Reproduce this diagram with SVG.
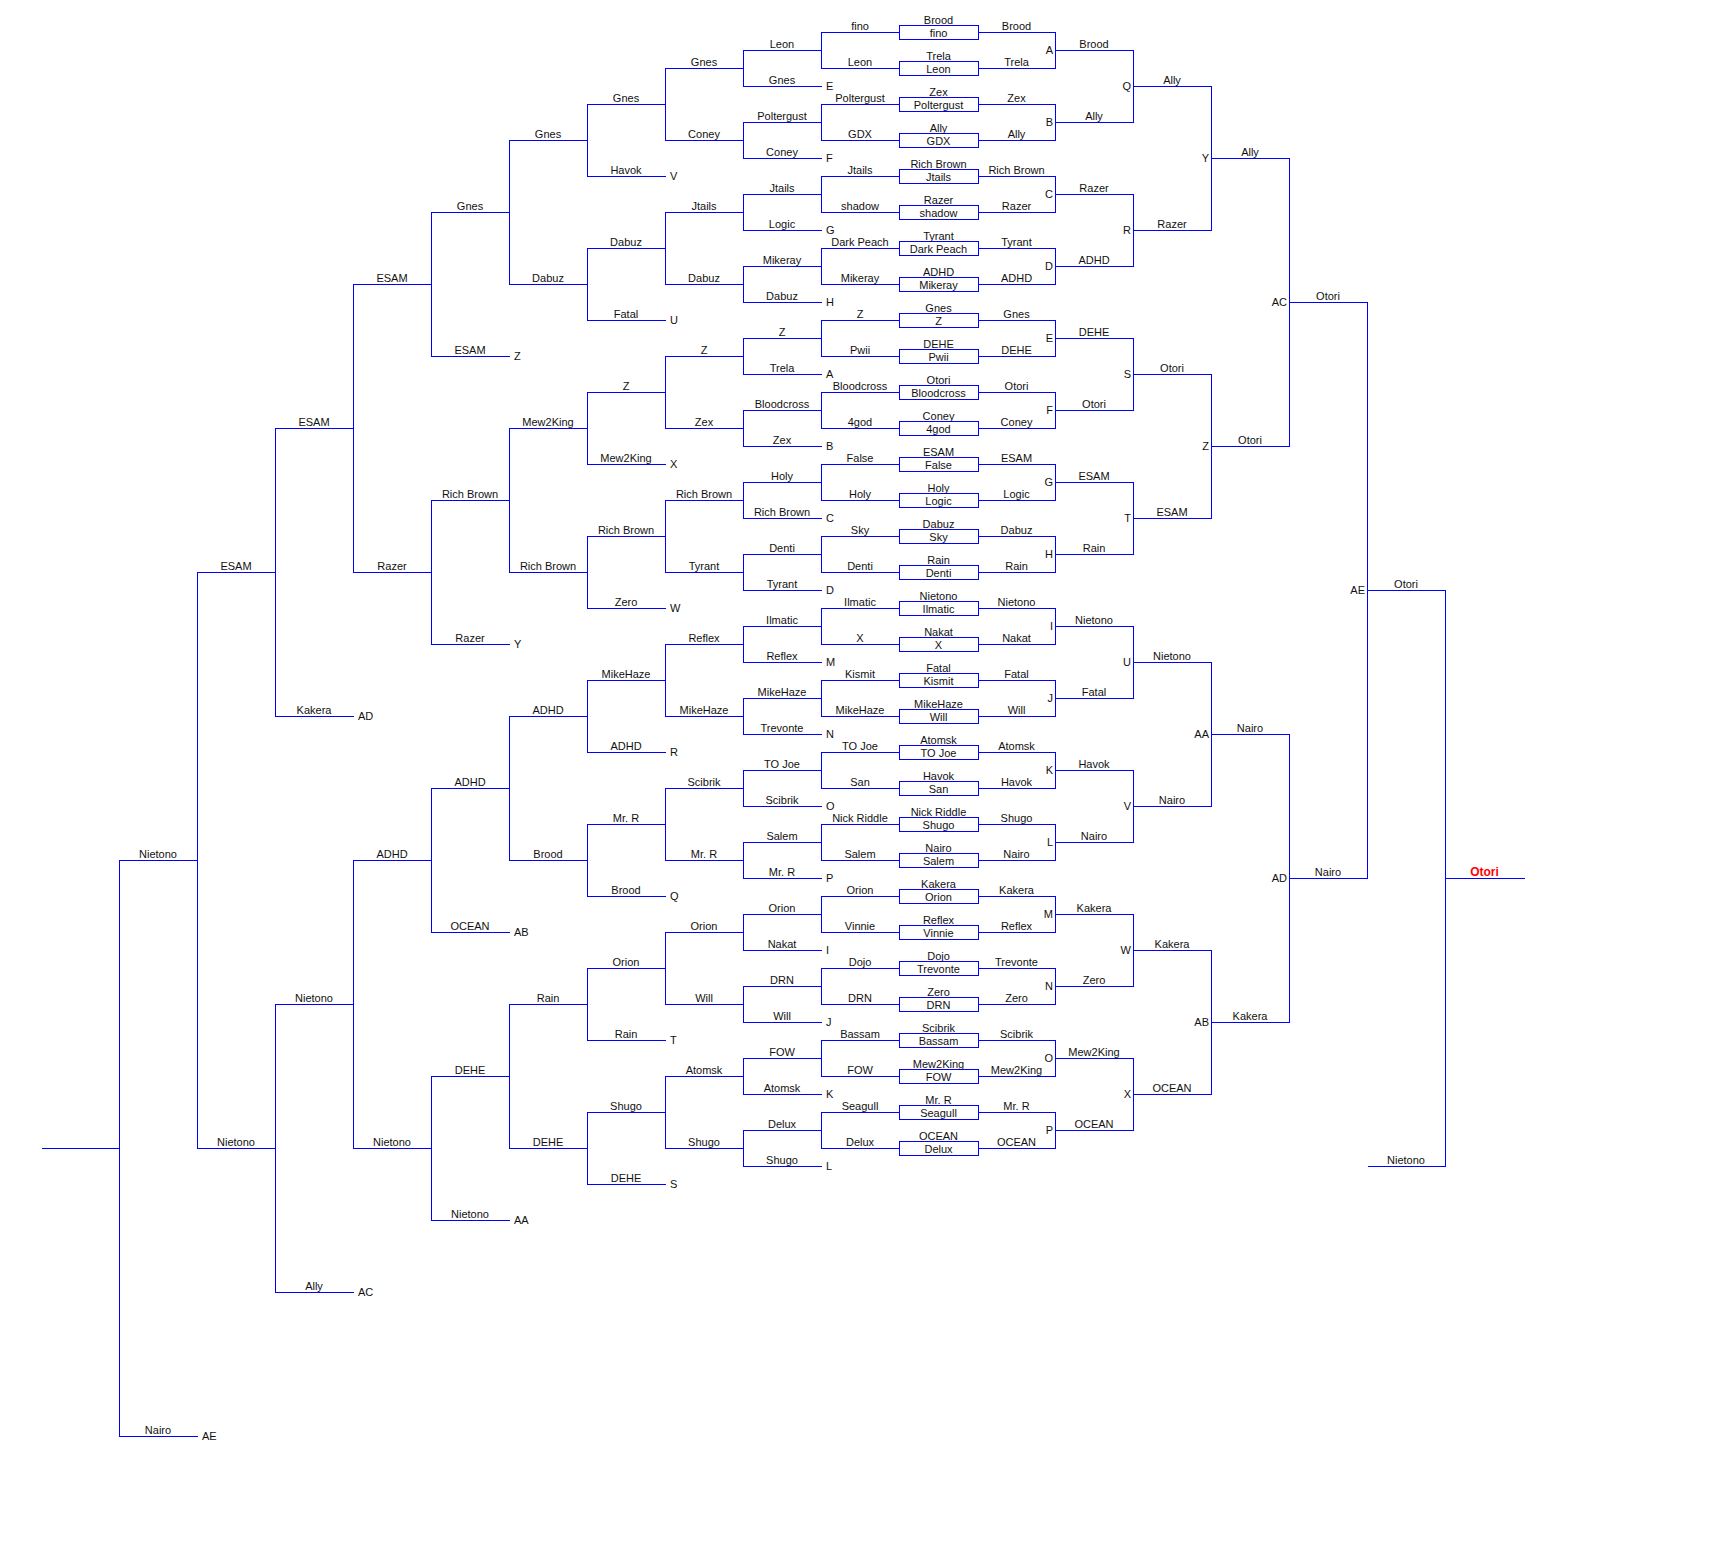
<svg xmlns="http://www.w3.org/2000/svg" width="1723" height="1551" viewBox="0 0 1723 1551">
<style>
.c path{fill:none;stroke:#0000ff;stroke-width:1}
.n rect{fill:#fff;stroke:#0000ff;stroke-width:1}
text{font-family:"Liberation Sans",Arial,sans-serif;font-size:11px;fill:#111;text-anchor:middle}
text.s{text-anchor:start}
text.e{text-anchor:end}
text.win{fill:#ff0000;font-weight:bold;font-size:12px}
</style>
<rect width="1723" height="1551" fill="#fff"/>
<g id="connectors" class="c" shape-rendering="crispEdges" transform="translate(0.5,0.5)">
<path d="M978 32H1055V68H978M978 104H1055V140H978M978 176H1055V212H978M978 248H1055V284H978M978 320H1055V356H978M978 392H1055V428H978M978 464H1055V500H978M978 536H1055V572H978M978 608H1055V644H978M978 680H1055V716H978M978 752H1055V788H978M978 824H1055V860H978M978 896H1055V932H978M978 968H1055V1004H978M978 1040H1055V1076H978M978 1112H1055V1148H978"/>
<path d="M1055 50H1133V122H1055M1055 194H1133V266H1055M1055 338H1133V410H1055M1055 482H1133V554H1055M1055 626H1133V698H1055M1055 770H1133V842H1055M1055 914H1133V986H1055M1055 1058H1133V1130H1055"/>
<path d="M1133 86H1211V230H1133M1133 374H1211V518H1133M1133 662H1211V806H1133M1133 950H1211V1094H1133"/>
<path d="M1211 158H1289V446H1211M1211 734H1289V1022H1211"/>
<path d="M1289 302H1367V878H1289"/>
<path d="M1367 590H1445V1166H1367M1445 878H1524"/>
<path d="M899 32H821V68H899M899 104H821V140H899M899 176H821V212H899M899 248H821V284H899M899 320H821V356H899M899 392H821V428H899M899 464H821V500H899M899 536H821V572H899M899 608H821V644H899M899 680H821V716H899M899 752H821V788H899M899 824H821V860H899M899 896H821V932H899M899 968H821V1004H899M899 1040H821V1076H899M899 1112H821V1148H899"/>
<path d="M821 50H743V86H821M821 122H743V158H821M821 194H743V230H821M821 266H743V302H821M821 338H743V374H821M821 410H743V446H821M821 482H743V518H821M821 554H743V590H821M821 626H743V662H821M821 698H743V734H821M821 770H743V806H821M821 842H743V878H821M821 914H743V950H821M821 986H743V1022H821M821 1058H743V1094H821M821 1130H743V1166H821"/>
<path d="M743 68H665V140H743M743 212H665V284H743M743 356H665V428H743M743 500H665V572H743M743 644H665V716H743M743 788H665V860H743M743 932H665V1004H743M743 1076H665V1148H743"/>
<path d="M665 104H587V176H665M665 248H587V320H665M665 392H587V464H665M665 536H587V608H665M665 680H587V752H665M665 824H587V896H665M665 968H587V1040H665M665 1112H587V1184H665"/>
<path d="M587 140H509V284H587M587 428H509V572H587M587 716H509V860H587M587 1004H509V1148H587"/>
<path d="M509 212H431V356H509M509 500H431V644H509M509 788H431V932H509M509 1076H431V1220H509"/>
<path d="M431 284H353V572H431M431 860H353V1148H431"/>
<path d="M353 428H275V716H353M353 1004H275V1292H353"/>
<path d="M275 572H197V1148H275"/>
<path d="M197 860H119V1436H197M119 1148H41"/>
</g>
<g id="matches" class="n">
<g id="m1"><rect x="899.5" y="25.5" width="79" height="14" shape-rendering="crispEdges"/><text x="938.5" y="24">Brood</text><text x="938.5" y="37">fino</text></g>
<g id="m2"><rect x="899.5" y="61.5" width="79" height="14" shape-rendering="crispEdges"/><text x="938.5" y="60">Trela</text><text x="938.5" y="73">Leon</text></g>
<g id="m3"><rect x="899.5" y="97.5" width="79" height="14" shape-rendering="crispEdges"/><text x="938.5" y="96">Zex</text><text x="938.5" y="109">Poltergust</text></g>
<g id="m4"><rect x="899.5" y="133.5" width="79" height="14" shape-rendering="crispEdges"/><text x="938.5" y="132">Ally</text><text x="938.5" y="145">GDX</text></g>
<g id="m5"><rect x="899.5" y="169.5" width="79" height="14" shape-rendering="crispEdges"/><text x="938.5" y="168">Rich Brown</text><text x="938.5" y="181">Jtails</text></g>
<g id="m6"><rect x="899.5" y="205.5" width="79" height="14" shape-rendering="crispEdges"/><text x="938.5" y="204">Razer</text><text x="938.5" y="217">shadow</text></g>
<g id="m7"><rect x="899.5" y="241.5" width="79" height="14" shape-rendering="crispEdges"/><text x="938.5" y="240">Tyrant</text><text x="938.5" y="253">Dark Peach</text></g>
<g id="m8"><rect x="899.5" y="277.5" width="79" height="14" shape-rendering="crispEdges"/><text x="938.5" y="276">ADHD</text><text x="938.5" y="289">Mikeray</text></g>
<g id="m9"><rect x="899.5" y="313.5" width="79" height="14" shape-rendering="crispEdges"/><text x="938.5" y="312">Gnes</text><text x="938.5" y="325">Z</text></g>
<g id="m10"><rect x="899.5" y="349.5" width="79" height="14" shape-rendering="crispEdges"/><text x="938.5" y="348">DEHE</text><text x="938.5" y="361">Pwii</text></g>
<g id="m11"><rect x="899.5" y="385.5" width="79" height="14" shape-rendering="crispEdges"/><text x="938.5" y="384">Otori</text><text x="938.5" y="397">Bloodcross</text></g>
<g id="m12"><rect x="899.5" y="421.5" width="79" height="14" shape-rendering="crispEdges"/><text x="938.5" y="420">Coney</text><text x="938.5" y="433">4god</text></g>
<g id="m13"><rect x="899.5" y="457.5" width="79" height="14" shape-rendering="crispEdges"/><text x="938.5" y="456">ESAM</text><text x="938.5" y="469">False</text></g>
<g id="m14"><rect x="899.5" y="493.5" width="79" height="14" shape-rendering="crispEdges"/><text x="938.5" y="492">Holy</text><text x="938.5" y="505">Logic</text></g>
<g id="m15"><rect x="899.5" y="529.5" width="79" height="14" shape-rendering="crispEdges"/><text x="938.5" y="528">Dabuz</text><text x="938.5" y="541">Sky</text></g>
<g id="m16"><rect x="899.5" y="565.5" width="79" height="14" shape-rendering="crispEdges"/><text x="938.5" y="564">Rain</text><text x="938.5" y="577">Denti</text></g>
<g id="m17"><rect x="899.5" y="601.5" width="79" height="14" shape-rendering="crispEdges"/><text x="938.5" y="600">Nietono</text><text x="938.5" y="613">Ilmatic</text></g>
<g id="m18"><rect x="899.5" y="637.5" width="79" height="14" shape-rendering="crispEdges"/><text x="938.5" y="636">Nakat</text><text x="938.5" y="649">X</text></g>
<g id="m19"><rect x="899.5" y="673.5" width="79" height="14" shape-rendering="crispEdges"/><text x="938.5" y="672">Fatal</text><text x="938.5" y="685">Kismit</text></g>
<g id="m20"><rect x="899.5" y="709.5" width="79" height="14" shape-rendering="crispEdges"/><text x="938.5" y="708">MikeHaze</text><text x="938.5" y="721">Will</text></g>
<g id="m21"><rect x="899.5" y="745.5" width="79" height="14" shape-rendering="crispEdges"/><text x="938.5" y="744">Atomsk</text><text x="938.5" y="757">TO Joe</text></g>
<g id="m22"><rect x="899.5" y="781.5" width="79" height="14" shape-rendering="crispEdges"/><text x="938.5" y="780">Havok</text><text x="938.5" y="793">San</text></g>
<g id="m23"><rect x="899.5" y="817.5" width="79" height="14" shape-rendering="crispEdges"/><text x="938.5" y="816">Nick Riddle</text><text x="938.5" y="829">Shugo</text></g>
<g id="m24"><rect x="899.5" y="853.5" width="79" height="14" shape-rendering="crispEdges"/><text x="938.5" y="852">Nairo</text><text x="938.5" y="865">Salem</text></g>
<g id="m25"><rect x="899.5" y="889.5" width="79" height="14" shape-rendering="crispEdges"/><text x="938.5" y="888">Kakera</text><text x="938.5" y="901">Orion</text></g>
<g id="m26"><rect x="899.5" y="925.5" width="79" height="14" shape-rendering="crispEdges"/><text x="938.5" y="924">Reflex</text><text x="938.5" y="937">Vinnie</text></g>
<g id="m27"><rect x="899.5" y="961.5" width="79" height="14" shape-rendering="crispEdges"/><text x="938.5" y="960">Dojo</text><text x="938.5" y="973">Trevonte</text></g>
<g id="m28"><rect x="899.5" y="997.5" width="79" height="14" shape-rendering="crispEdges"/><text x="938.5" y="996">Zero</text><text x="938.5" y="1009">DRN</text></g>
<g id="m29"><rect x="899.5" y="1033.5" width="79" height="14" shape-rendering="crispEdges"/><text x="938.5" y="1032">Scibrik</text><text x="938.5" y="1045">Bassam</text></g>
<g id="m30"><rect x="899.5" y="1069.5" width="79" height="14" shape-rendering="crispEdges"/><text x="938.5" y="1068">Mew2King</text><text x="938.5" y="1081">FOW</text></g>
<g id="m31"><rect x="899.5" y="1105.5" width="79" height="14" shape-rendering="crispEdges"/><text x="938.5" y="1104">Mr. R</text><text x="938.5" y="1117">Seagull</text></g>
<g id="m32"><rect x="899.5" y="1141.5" width="79" height="14" shape-rendering="crispEdges"/><text x="938.5" y="1140">OCEAN</text><text x="938.5" y="1153">Delux</text></g>
</g>
<g id="r1-losers">
<text x="860" y="30">fino</text><text x="860" y="66">Leon</text><text x="860" y="102">Poltergust</text><text x="860" y="138">GDX</text>
<text x="860" y="174">Jtails</text><text x="860" y="210">shadow</text><text x="860" y="246">Dark Peach</text><text x="860" y="282">Mikeray</text>
<text x="860" y="318">Z</text><text x="860" y="354">Pwii</text><text x="860" y="390">Bloodcross</text><text x="860" y="426">4god</text>
<text x="860" y="462">False</text><text x="860" y="498">Holy</text><text x="860" y="534">Sky</text><text x="860" y="570">Denti</text>
<text x="860" y="606">Ilmatic</text><text x="860" y="642">X</text><text x="860" y="678">Kismit</text><text x="860" y="714">MikeHaze</text>
<text x="860" y="750">TO Joe</text><text x="860" y="786">San</text><text x="860" y="822">Nick Riddle</text><text x="860" y="858">Salem</text>
<text x="860" y="894">Orion</text><text x="860" y="930">Vinnie</text><text x="860" y="966">Dojo</text><text x="860" y="1002">DRN</text>
<text x="860" y="1038">Bassam</text><text x="860" y="1074">FOW</text><text x="860" y="1110">Seagull</text><text x="860" y="1146">Delux</text>
</g>
<g id="r1-winners">
<text x="1016.5" y="30">Brood</text><text x="1016.5" y="66">Trela</text><text x="1016.5" y="102">Zex</text><text x="1016.5" y="138">Ally</text>
<text x="1016.5" y="174">Rich Brown</text><text x="1016.5" y="210">Razer</text><text x="1016.5" y="246">Tyrant</text><text x="1016.5" y="282">ADHD</text>
<text x="1016.5" y="318">Gnes</text><text x="1016.5" y="354">DEHE</text><text x="1016.5" y="390">Otori</text><text x="1016.5" y="426">Coney</text>
<text x="1016.5" y="462">ESAM</text><text x="1016.5" y="498">Logic</text><text x="1016.5" y="534">Dabuz</text><text x="1016.5" y="570">Rain</text>
<text x="1016.5" y="606">Nietono</text><text x="1016.5" y="642">Nakat</text><text x="1016.5" y="678">Fatal</text><text x="1016.5" y="714">Will</text>
<text x="1016.5" y="750">Atomsk</text><text x="1016.5" y="786">Havok</text><text x="1016.5" y="822">Shugo</text><text x="1016.5" y="858">Nairo</text>
<text x="1016.5" y="894">Kakera</text><text x="1016.5" y="930">Reflex</text><text x="1016.5" y="966">Trevonte</text><text x="1016.5" y="1002">Zero</text>
<text x="1016.5" y="1038">Scibrik</text><text x="1016.5" y="1074">Mew2King</text><text x="1016.5" y="1110">Mr. R</text><text x="1016.5" y="1146">OCEAN</text>
</g>
<g id="w-round2">
<text x="1094" y="48">Brood</text><text x="1094" y="120">Ally</text><text x="1094" y="192">Razer</text><text x="1094" y="264">ADHD</text>
<text x="1094" y="336">DEHE</text><text x="1094" y="408">Otori</text><text x="1094" y="480">ESAM</text><text x="1094" y="552">Rain</text>
<text x="1094" y="624">Nietono</text><text x="1094" y="696">Fatal</text><text x="1094" y="768">Havok</text><text x="1094" y="840">Nairo</text>
<text x="1094" y="912">Kakera</text><text x="1094" y="984">Zero</text><text x="1094" y="1056">Mew2King</text><text x="1094" y="1128">OCEAN</text>
<text class="e" x="1053" y="54">A</text><text class="e" x="1053" y="126">B</text><text class="e" x="1053" y="198">C</text><text class="e" x="1053" y="270">D</text>
<text class="e" x="1053" y="342">E</text><text class="e" x="1053" y="414">F</text><text class="e" x="1053" y="486">G</text><text class="e" x="1053" y="558">H</text>
<text class="e" x="1053" y="630">I</text><text class="e" x="1053" y="702">J</text><text class="e" x="1053" y="774">K</text><text class="e" x="1053" y="846">L</text>
<text class="e" x="1053" y="918">M</text><text class="e" x="1053" y="990">N</text><text class="e" x="1053" y="1062">O</text><text class="e" x="1053" y="1134">P</text>
</g>
<g id="w-round3">
<text x="1172" y="84">Ally</text><text x="1172" y="228">Razer</text><text x="1172" y="372">Otori</text><text x="1172" y="516">ESAM</text>
<text x="1172" y="660">Nietono</text><text x="1172" y="804">Nairo</text><text x="1172" y="948">Kakera</text><text x="1172" y="1092">OCEAN</text>
<text class="e" x="1131" y="90">Q</text><text class="e" x="1131" y="234">R</text><text class="e" x="1131" y="378">S</text><text class="e" x="1131" y="522">T</text>
<text class="e" x="1131" y="666">U</text><text class="e" x="1131" y="810">V</text><text class="e" x="1131" y="954">W</text><text class="e" x="1131" y="1098">X</text>
</g>
<g id="w-round4">
<text x="1250" y="156">Ally</text><text x="1250" y="444">Otori</text><text x="1250" y="732">Nairo</text><text x="1250" y="1020">Kakera</text>
<text class="e" x="1209" y="162">Y</text><text class="e" x="1209" y="450">Z</text><text class="e" x="1209" y="738">AA</text><text class="e" x="1209" y="1026">AB</text>
</g>
<g id="w-round5">
<text x="1328" y="300">Otori</text><text x="1328" y="876">Nairo</text>
<text class="e" x="1287" y="306">AC</text><text class="e" x="1287" y="882">AD</text>
</g>
<g id="w-final">
<text x="1406" y="588">Otori</text><text class="e" x="1365" y="594">AE</text>
<text x="1406" y="1164">Nietono</text>
</g>
<g id="grand-final">
<text class="win" x="1484.5" y="876">Otori</text>
</g>
<g id="l-round2">
<text x="782" y="48">Leon</text><text x="782" y="84">Gnes</text><text x="782" y="120">Poltergust</text><text x="782" y="156">Coney</text>
<text x="782" y="192">Jtails</text><text x="782" y="228">Logic</text><text x="782" y="264">Mikeray</text><text x="782" y="300">Dabuz</text>
<text x="782" y="336">Z</text><text x="782" y="372">Trela</text><text x="782" y="408">Bloodcross</text><text x="782" y="444">Zex</text>
<text x="782" y="480">Holy</text><text x="782" y="516">Rich Brown</text><text x="782" y="552">Denti</text><text x="782" y="588">Tyrant</text>
<text x="782" y="624">Ilmatic</text><text x="782" y="660">Reflex</text><text x="782" y="696">MikeHaze</text><text x="782" y="732">Trevonte</text>
<text x="782" y="768">TO Joe</text><text x="782" y="804">Scibrik</text><text x="782" y="840">Salem</text><text x="782" y="876">Mr. R</text>
<text x="782" y="912">Orion</text><text x="782" y="948">Nakat</text><text x="782" y="984">DRN</text><text x="782" y="1020">Will</text>
<text x="782" y="1056">FOW</text><text x="782" y="1092">Atomsk</text><text x="782" y="1128">Delux</text><text x="782" y="1164">Shugo</text>
<text class="s" x="826" y="90">E</text><text class="s" x="826" y="162">F</text><text class="s" x="826" y="234">G</text><text class="s" x="826" y="306">H</text>
<text class="s" x="826" y="378">A</text><text class="s" x="826" y="450">B</text><text class="s" x="826" y="522">C</text><text class="s" x="826" y="594">D</text>
<text class="s" x="826" y="666">M</text><text class="s" x="826" y="738">N</text><text class="s" x="826" y="810">O</text><text class="s" x="826" y="882">P</text>
<text class="s" x="826" y="954">I</text><text class="s" x="826" y="1026">J</text><text class="s" x="826" y="1098">K</text><text class="s" x="826" y="1170">L</text>
</g>
<g id="l-round3">
<text x="704" y="66">Gnes</text><text x="704" y="138">Coney</text><text x="704" y="210">Jtails</text><text x="704" y="282">Dabuz</text>
<text x="704" y="354">Z</text><text x="704" y="426">Zex</text><text x="704" y="498">Rich Brown</text><text x="704" y="570">Tyrant</text>
<text x="704" y="642">Reflex</text><text x="704" y="714">MikeHaze</text><text x="704" y="786">Scibrik</text><text x="704" y="858">Mr. R</text>
<text x="704" y="930">Orion</text><text x="704" y="1002">Will</text><text x="704" y="1074">Atomsk</text><text x="704" y="1146">Shugo</text>
</g>
<g id="l-round4">
<text x="626" y="102">Gnes</text><text x="626" y="174">Havok</text><text x="626" y="246">Dabuz</text><text x="626" y="318">Fatal</text>
<text x="626" y="390">Z</text><text x="626" y="462">Mew2King</text><text x="626" y="534">Rich Brown</text><text x="626" y="606">Zero</text>
<text x="626" y="678">MikeHaze</text><text x="626" y="750">ADHD</text><text x="626" y="822">Mr. R</text><text x="626" y="894">Brood</text>
<text x="626" y="966">Orion</text><text x="626" y="1038">Rain</text><text x="626" y="1110">Shugo</text><text x="626" y="1182">DEHE</text>
<text class="s" x="670" y="180">V</text><text class="s" x="670" y="324">U</text><text class="s" x="670" y="468">X</text><text class="s" x="670" y="612">W</text>
<text class="s" x="670" y="756">R</text><text class="s" x="670" y="900">Q</text><text class="s" x="670" y="1044">T</text><text class="s" x="670" y="1188">S</text>
</g>
<g id="l-round5">
<text x="548" y="138">Gnes</text><text x="548" y="282">Dabuz</text><text x="548" y="426">Mew2King</text><text x="548" y="570">Rich Brown</text>
<text x="548" y="714">ADHD</text><text x="548" y="858">Brood</text><text x="548" y="1002">Rain</text><text x="548" y="1146">DEHE</text>
</g>
<g id="l-round6">
<text x="470" y="210">Gnes</text><text x="470" y="354">ESAM</text><text x="470" y="498">Rich Brown</text><text x="470" y="642">Razer</text>
<text x="470" y="786">ADHD</text><text x="470" y="930">OCEAN</text><text x="470" y="1074">DEHE</text><text x="470" y="1218">Nietono</text>
<text class="s" x="514" y="360">Z</text><text class="s" x="514" y="648">Y</text><text class="s" x="514" y="936">AB</text><text class="s" x="514" y="1224">AA</text>
</g>
<g id="l-round7">
<text x="392" y="282">ESAM</text><text x="392" y="570">Razer</text><text x="392" y="858">ADHD</text><text x="392" y="1146">Nietono</text>
</g>
<g id="l-round8">
<text x="314" y="426">ESAM</text><text x="314" y="714">Kakera</text><text x="314" y="1002">Nietono</text><text x="314" y="1290">Ally</text>
<text class="s" x="358" y="720">AD</text><text class="s" x="358" y="1296">AC</text>
</g>
<g id="l-round9">
<text x="236" y="570">ESAM</text><text x="236" y="1146">Nietono</text>
</g>
<g id="l-final">
<text x="158" y="858">Nietono</text><text x="158" y="1434">Nairo</text>
<text class="s" x="202" y="1440">AE</text>
</g>
</svg>
